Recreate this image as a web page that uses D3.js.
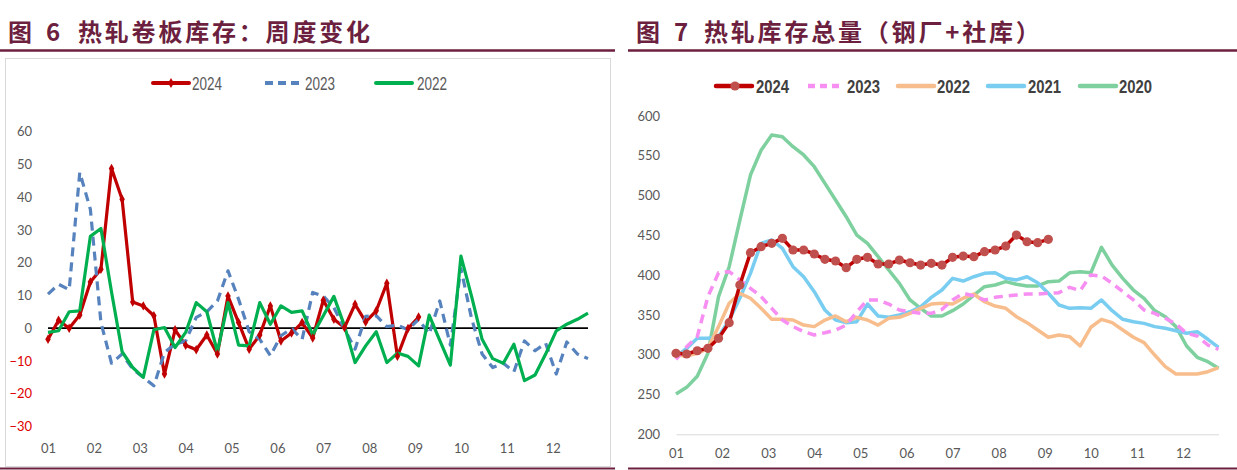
<!DOCTYPE html>
<html>
<head>
<meta charset="utf-8">
<script src="https://cdn.jsdelivr.net/npm/d3@7"></script>
<style>
body { margin: 0; background: #fff; }
svg text { font-family: Lato, "Liberation Sans", sans-serif; }
</style>
</head>
<body>
<div id="chart"></div>
<script>
var months = ["01", "02", "03", "04", "05", "06", "07", "08", "09", "10", "11", "12"];

// 图6 周度变化
var left2024 = [-3.4, 2.4, 0, 4, 14.1, 18, 48.7, 39.3, 8, 6.8, 3.8, -14, -0.5, -5.2, -6.6, -2.1, -7.9, 9.8,
    1.7, -6.4, -2.1, 6.8, -3.9, -1.5, 1.7, -3, 8.5, 2.7, 0.2, 7.3, 1.9, 5.3, 13.7, -8.6, -0.1, 3.4];
var left2023 = [10.4, 13.4, 11.7, 47.5, 36.3, 1.7, -10.7, -7.9, -12.5, -15, -17.6, -7.4, -4.9, -3.9, 3.3, 5, 8.3,
    17.5, 8.8, -1.1, -3.4, -8.4, -2.3, -0.1, -3.4, 10.9, 9.8, 6.3, -0.3, -6.4, 3.6, 3.8, 0.5, 0.9, -0.5, 2.7,
    -1.8, 8.3, -5.2, 18.2, 3, -7.9, -12, -10.7, -13.3, -3.9, -6.9, -4.6, -14, -4.2, -7.9, -9.3];
var left2022 = [-1.3, -0.8, 5, 5.3, 28, 30.4, 11, -7.2, -12, -15, -0.5, 0.2, -5.9, -1.3, 7.8, 5, -7.2, 7.8,
    -5.2, -5.4, 7.8, 1.2, 6.8, 4.8, 5.3, -2, 3.8, 9.7, 0.7, -10.5, -5.4, -1.1, -10.5, -7.6, -8.6, -11.5,
    4, -3.7, -11.3, 22, 9.8, -3.4, -9.3, -10.7, -4.9, -16, -14.3, -7.9, -0.8, 1.2, 2.7, 4.6];
var leftTicks = [60, 50, 40, 30, 20, 10, 0, -10, -20, -30];

// 图7 库存总量
var right2024 = [301.8, 300.9, 305, 308, 320.6, 340.3, 387.6, 428.2, 435.8, 440, 446.3, 431.6, 431.6, 426.6,
    419.9, 417.8, 409.4, 419.9, 422.4, 414, 414, 419, 415.6, 412.7, 414.9, 412.7, 422.4, 424, 423.2,
    429.5, 431.6, 436.6, 450.4, 442, 440.8, 445];
var right2023 = [294.2, 310, 322.7, 373, 403, 404.4, 394, 383.5, 373, 358.3, 343.6, 335.3, 329, 324.8, 327.7,
    331, 337.3, 354, 368.8, 368.8, 363.7, 356.2, 354, 352, 352, 357, 368.8, 377.2, 373.8, 368.8, 372.1,
    373.8, 375, 376.3, 376.3, 377.2, 378, 384.7, 380.5, 400.2, 398.9, 389.7, 379.2, 368.8, 356.2, 352,
    345.8, 338.6, 326.9, 323.5, 312.2, 306.8];
var right2022 = [299.6, 298.4, 301.8, 308, 335.3, 364.6, 377.2, 371, 358.3, 344.5, 344.5, 343.6, 337.3, 335.3,
    343.6, 348.7, 341.5, 347, 343.6, 337.3, 345.7, 347, 352, 358.3, 363.7, 364.6, 363.7, 371, 376.3,
    366.6, 361.2, 358.3, 347.8, 340.3, 331.1, 321.9, 324.8, 322.7, 311, 334.5, 344.5, 340.3, 331.1,
    321.9, 315.2, 299.6, 285, 275.8, 275.8, 275.8, 278.7, 283.7];
var right2021 = [297.5, 308, 320.6, 320.6, 322.7, 343.6, 371, 402.3, 440, 444.2, 433.7, 410.6, 398, 379.2,
    356.2, 343.6, 340.3, 341.5, 363.7, 348.7, 347, 349.9, 354, 360.3, 372, 381.3, 396, 392.6, 398, 402.3,
    403, 396, 394, 398, 390.5, 377.2, 362.5, 358.3, 359, 358.3, 368.8, 355.4, 344.5, 341.5, 339.4, 335.3,
    333.2, 330.2, 326.9, 329, 319.4, 309.3];
var right2020 = [250.6, 259, 273, 301.8, 373, 410.6, 469, 525.8, 557, 576, 574, 561.4, 551, 536.3, 515.4,
    494.4, 473.4, 450.4, 440, 423.2, 406.5, 389.7, 368.8, 358.3, 348.7, 348.7, 355.4, 363.7, 375, 385.5,
    387.6, 391.8, 388.5, 386.4, 386.4, 391.8, 392.6, 403, 404.4, 403, 435, 412.7, 396, 381.3, 370.9,
    355.4, 347.8, 335.3, 311, 296.8, 291.2, 283];
var rightTicks = [600, 550, 500, 450, 400, 350, 300, 250, 200];

var maroon = "#6c1f3e";
var svg = d3.select("#chart").append("svg")
    .attr("width", 1237)
    .attr("height", 470);

//标题
function drawTitle(x0, num, rest, x1, x2, lineFrom, lineTo) {
    var t = svg.append("g")
        .attr("fill", maroon)
        .attr("font-weight", "bold")
        .attr("font-size", 24);
    t.append("text").attr("x", x0).attr("y", 41)
        .style("font-family", "'Noto Sans CJK SC'").text("图");
    t.append("text").attr("x", x1).attr("y", 41)
        .style("font-family", "'Noto Sans CJK SC'").text(num);
    t.append("text").attr("x", x2).attr("y", 41)
        .style("font-family", "'Noto Sans CJK SC'")
        .attr("letter-spacing", 2.8).text(rest);
    svg.append("line")
        .attr("x1", lineFrom).attr("x2", lineTo)
        .attr("y1", 50.5).attr("y2", 50.5)
        .attr("stroke", maroon).attr("stroke-width", 2.5);
    svg.append("line")
        .attr("x1", lineFrom).attr("x2", lineTo)
        .attr("y1", 468.5).attr("y2", 468.5)
        .attr("stroke", maroon).attr("stroke-width", 2);
}
drawTitle(8, "6", "热轧卷板库存：周度变化", 46, 78, 0, 615);
drawTitle(636, "7", "热轧库存总量（钢厂+社库）", 674, 704, 628, 1237);

// ---------- 左图 ----------
svg.append("rect")
    .attr("x", 5.5).attr("y", 58.5)
    .attr("width", 605).attr("height", 408)
    .attr("fill", "none").attr("stroke", "#d9d9d9");

var xL = d3.scaleLinear().domain([0, 51]).range([48, 588]);
var yL = d3.scaleLinear().domain([-30, 60]).range([426.5, 131.5]);

var yAxisL = svg.append("g")
    .attr("transform", "translate(40,0)")
    .call(d3.axisLeft(yL).tickValues(leftTicks).tickSize(0).tickPadding(8));
yAxisL.select(".domain").remove();
yAxisL.selectAll("text")
    .attr("font-size", 13)
    .attr("fill", function(d) { return d < 0 ? "#e00000" : "#595959"; });

var xAxisL = svg.append("g")
    .attr("transform", "translate(0,441)")
    .call(d3.axisBottom(xL)
        .tickValues(d3.range(12).map(function(m) { return m * 52 / 12; }))
        .tickFormat(function(d, i) { return months[i]; })
        .tickSize(0).tickPadding(3));
xAxisL.select(".domain").remove();
xAxisL.selectAll("text").attr("font-size", 13).attr("fill", "#595959");

svg.append("line")
    .attr("x1", xL(0)).attr("x2", xL(51))
    .attr("y1", yL(0)).attr("y2", yL(0))
    .attr("stroke", "#000").attr("stroke-width", 1.8);

var lineL = d3.line()
    .x(function(d, i) { return xL(i); })
    .y(function(d) { return yL(d); });

var leftSeries = [
    { name: "2024", data: left2024, color: "#c00000", dash: null },
    { name: "2023", data: left2023, color: "#5682be", dash: "9,6" },
    { name: "2022", data: left2022, color: "#00b050", dash: null }
];
leftSeries.forEach(function(s) {
    svg.append("path")
        .datum(s.data)
        .attr("d", lineL)
        .attr("fill", "none")
        .attr("stroke", s.color)
        .attr("stroke-width", 3.2)
        .attr("stroke-linejoin", "round")
        .attr("stroke-dasharray", s.dash);
});
svg.append("g").selectAll("path")
    .data(left2024)
    .enter()
    .append("path")
    .attr("transform", function(d, i) { return "translate(" + xL(i) + "," + yL(d) + ")"; })
    .attr("d", d3.symbol(d3.symbolDiamond, 26))
    .attr("fill", "#c00000");

//图例
var legL = [[153, 192], [265, 305], [376, 417]];
leftSeries.forEach(function(s, i) {
    svg.append("line")
        .attr("x1", legL[i][0]).attr("x2", legL[i][0] + 36)
        .attr("y1", 83).attr("y2", 83)
        .attr("stroke", s.color).attr("stroke-width", 4)
        .attr("stroke-linecap", s.dash ? "butt" : "round")
        .attr("stroke-dasharray", s.dash ? "8,5" : null);
    svg.append("text")
        .attr("x", legL[i][1]).attr("y", 89.5)
        .attr("font-size", 18)
        .attr("fill", "#595959")
        .attr("textLength", 30)
        .attr("lengthAdjust", "spacingAndGlyphs")
        .style("font-family", "'Liberation Sans Narrow', 'Liberation Sans', sans-serif")
        .text(s.name);
});
svg.append("path")
    .attr("transform", "translate(171,83)")
    .attr("d", d3.symbol(d3.symbolDiamond, 30))
    .attr("fill", "#c00000");

// ---------- 右图 ----------
var xR = d3.scaleLinear().domain([0, 51]).range([676, 1218.5]);
var yR = d3.scaleLinear().domain([200, 600]).range([434.3, 116]);

var yAxisR = svg.append("g")
    .attr("transform", "translate(668,0)")
    .call(d3.axisLeft(yR).tickValues(rightTicks).tickSize(0).tickPadding(8));
yAxisR.select(".domain").remove();
yAxisR.selectAll("text").attr("font-size", 13).attr("fill", "#595959");

var xAxisR = svg.append("g")
    .attr("transform", "translate(0,434.3)")
    .call(d3.axisBottom(xR)
        .tickValues(d3.range(12).map(function(m) { return m * 52 / 12; }))
        .tickFormat(function(d, i) { return months[i]; })
        .tickSize(0).tickPadding(14));
xAxisR.select(".domain").attr("stroke", "#d9d9d9");
xAxisR.selectAll("text").attr("font-size", 13).attr("fill", "#595959");

var lineR = d3.line()
    .x(function(d, i) { return xR(i); })
    .y(function(d) { return yR(d); });

var rightSeries = [
    { name: "2024", data: right2024, color: "#c00000", dash: null },
    { name: "2023", data: right2023, color: "#f78ef2", dash: "9,6" },
    { name: "2022", data: right2022, color: "#f8bd8c", dash: null },
    { name: "2021", data: right2021, color: "#78cdf0", dash: null },
    { name: "2020", data: right2020, color: "#7ed19f", dash: null }
];
rightSeries.slice().reverse().forEach(function(s) {
    svg.append("path")
        .datum(s.data)
        .attr("d", lineR)
        .attr("fill", "none")
        .attr("stroke", s.color)
        .attr("stroke-width", 3.5)
        .attr("stroke-linejoin", "round")
        .attr("stroke-dasharray", s.dash);
});
svg.append("g").selectAll("circle")
    .data(right2024)
    .enter()
    .append("circle")
    .attr("cx", function(d, i) { return xR(i); })
    .attr("cy", function(d) { return yR(d); })
    .attr("r", 4.6)
    .attr("fill", "#c0504d");

var legR = [[716, 756], [808, 847], [898, 937], [988, 1028], [1080, 1119]];
rightSeries.forEach(function(s, i) {
    svg.append("line")
        .attr("x1", legR[i][0]).attr("x2", legR[i][0] + 36)
        .attr("y1", 86).attr("y2", 86)
        .attr("stroke", s.color).attr("stroke-width", 4.5)
        .attr("stroke-linecap", s.dash ? "butt" : "round")
        .attr("stroke-dasharray", s.dash ? "7,5" : null);
    svg.append("text")
        .attr("x", legR[i][1]).attr("y", 92.5)
        .attr("font-size", 18)
        .attr("font-weight", "bold")
        .attr("fill", "#404040")
        .attr("textLength", 33)
        .attr("lengthAdjust", "spacingAndGlyphs")
        .style("font-family", "'Liberation Sans Narrow', 'Liberation Sans', sans-serif")
        .text(s.name);
});
svg.append("circle")
    .attr("cx", 735).attr("cy", 86).attr("r", 4.6)
    .attr("fill", "#c0504d");
</script>
</body>
</html>
